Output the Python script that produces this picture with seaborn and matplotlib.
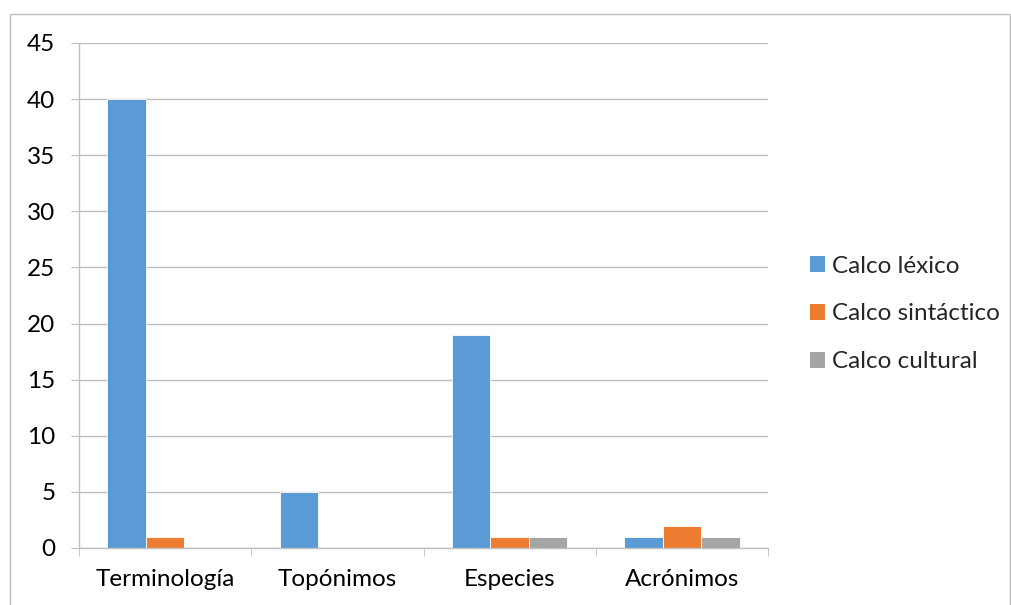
import matplotlib
matplotlib.use("Agg")
import matplotlib.pyplot as plt
import seaborn as sns
import pandas as pd
import numpy as np
from matplotlib.patches import Rectangle, Patch

categories = ["Terminología", "Topónimos", "Especies", "Acrónimos"]
series = ["Calco léxico", "Calco sintáctico", "Calco cultural"]
lexico = [40, 5, 19, 1]
sintactico = [1, 0, 1, 2]
cultural = [0, 0, 1, 1]
colors = ["#5B9BD5", "#ED7D31", "#A5A5A5"]

rows = []
for s, vals in zip(series, [lexico, sintactico, cultural]):
    for c, v in zip(categories, vals):
        rows.append({"cat": c, "serie": s, "valor": v})
df = pd.DataFrame(rows)

sns.set_style("white")
plt.rcParams["font.family"] = ["Lato", "DejaVu Sans"]
FS = 17.5

fig = plt.figure(figsize=(10.11, 6.05), dpi=100)
ax = fig.add_axes([79/1011, 1-548/605, (768-79)/1011, (548-43)/605])

sns.barplot(data=df, x="cat", y="valor", hue="serie", order=categories,
            hue_order=series, palette=colors, width=0.67, ax=ax,
            edgecolor="white", linewidth=0.6, legend=False, saturation=1)

ax.set_xlim(-0.5, 3.5)
ax.set_ylim(0, 45)
ax.set_yticks(range(0, 46, 5))
ax.yaxis.grid(True, color="#BFBFBF", linewidth=1.0)
ax.set_axisbelow(True)
ax.set_xlabel("")
ax.set_ylabel("")
for side in ["top", "right"]:
    ax.spines[side].set_visible(False)
for side in ["left", "bottom"]:
    ax.spines[side].set_color("#BFBFBF")
    ax.spines[side].set_linewidth(1.0)
ax.tick_params(axis="y", which="major", left=True, length=6, color="#BFBFBF",
               labelsize=FS, pad=11, labelcolor="#000000")
ax.tick_params(axis="x", which="major", length=0, labelsize=FS, pad=15,
               labelcolor="#000000")
ax.set_xticks(np.arange(-0.5, 4.0, 1.0), minor=True)
ax.tick_params(axis="x", which="minor", bottom=True, length=6, color="#BFBFBF")

handles = [Patch(facecolor=c, edgecolor="none") for c in colors]
fig.legend(handles, series, loc="center left", bbox_to_anchor=(810/1011, 1-314/605),
           frameon=False, fontsize=FS, handlelength=0.62, handleheight=0.62,
           handletextpad=0.3, labelspacing=1.1, borderpad=0, borderaxespad=0)

border = Rectangle((10/1011, -0.05), 1000/1011, 1.05 - 14/605,
                   transform=fig.transFigure, fill=False, edgecolor="#BFBFBF",
                   linewidth=1.0, clip_on=False)
fig.patches.append(border)

fig.savefig("out.png", dpi=100)
